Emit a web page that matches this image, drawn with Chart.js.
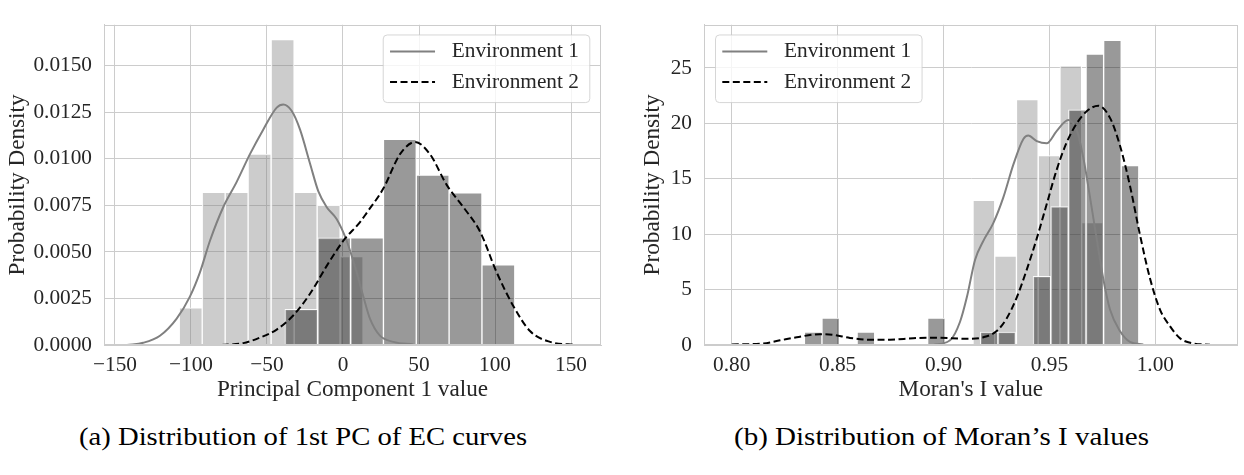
<!DOCTYPE html>
<html>
<head>
<meta charset="utf-8">
<title>Distributions</title>
<script src="https://cdn.jsdelivr.net/npm/chart.js@4.4.1/dist/chart.umd.min.js"></script>
<style>
  html, body { margin: 0; padding: 0; background: #fff; }
  body { width: 1244px; height: 475px; position: relative; overflow: hidden; }
  canvas { position: absolute; top: 0; }
  #chartA { left: 0; }
  #chartB { left: 620px; }
  .caption {
    position: absolute; top: 422px; line-height: 30px;
    font-family: "Liberation Serif", "Times New Roman", serif; font-size: 26px;
    color: #000; white-space: nowrap; transform-origin: left top;
  }
</style>
</head>
<body>
<canvas id="chartA" width="620" height="404"></canvas>
<canvas id="chartB" width="624" height="404"></canvas>
<div class="caption" id="capA" data-w="448">(a) Distribution of 1st PC of EC curves</div>
<div class="caption" id="capB" data-w="415">(b) Distribution of Moran’s I values</div>
<script>
// ---- (a) 1st principal component ----
const pcTicksX = [-150, -100, -50, 0, 50, 100, 150];
const pcTicksY = [0, 0.0025, 0.005, 0.0075, 0.01, 0.0125, 0.015];
const pcEnv1Edges = [-107.7, -92.6, -77.5, -62.4, -47.3, -32.1, -17.0, -1.9, 13.2];
const pcEnv1Heights = [0.0020, 0.0082, 0.0082, 0.01025, 0.0164, 0.0082, 0.0075, 0.00475];
const pcEnv2Edges = [-38.2, -16.6, 5.0, 26.6, 48.2, 69.8, 91.4, 113.0];
const pcEnv2Heights = [0.00192, 0.00575, 0.00575, 0.01105, 0.00913, 0.00817, 0.0043];
const pcKde1X = [-142, -131.4, -120.4, -109.4, -100.7, -94.1, -87.5, -78.8, -70, -61.2, -52.4, -43.6, -39.3, -33.8, -28.3, -21.7, -16.2, -10.7, -4.1, 2.4, 9, 13.4, 17.8, 24.3, 33.1, 46.3];
const pcKde1Y = [0, 0.00012, 0.0005, 0.00142, 0.0026, 0.0039, 0.0056, 0.0074, 0.00875, 0.01025, 0.01158, 0.01275, 0.01292, 0.01258, 0.01158, 0.00975, 0.00825, 0.0074, 0.00675, 0.0056, 0.0039, 0.0026, 0.0014, 0.0005, 0.00017, 0.00003];
const pcKde2X = [-79.8, -65.6, -54.6, -43.6, -32.6, -21.7, -10.7, 0.2, 11.2, 15.6, 26.5, 37.5, 47.4, 57.2, 68.2, 79.2, 90.1, 101.1, 112, 123, 136.2, 153.7];
const pcKde2Y = [0, 0.0001, 0.0004, 0.00083, 0.0016, 0.00275, 0.00425, 0.0056, 0.0066, 0.0071, 0.0084, 0.01025, 0.0109, 0.01025, 0.0086, 0.0074, 0.0061, 0.0039, 0.0021, 0.00075, 0.00017, 0];

// ---- (b) Moran's I ----
const miTicksX = [0.80, 0.85, 0.90, 0.95, 1.00];
const miTicksY = [0, 5, 10, 15, 20, 25];
const miEnv1Edges = [0.9139, 0.9242, 0.9344, 0.9447, 0.9550, 0.9652, 0.9755];
const miEnv1Heights = [13.05, 8.02, 22.15, 17.1, 25.2, 11.04];
const miEnv2Edges = [0.8343, 0.8426, 0.8509, 0.8592, 0.8675, 0.8759, 0.8842, 0.8925, 0.9008, 0.9091, 0.9174, 0.9257, 0.9340, 0.9423, 0.9506, 0.9590, 0.9673, 0.9756, 0.9839, 0.9922];
const miEnv2Heights = [1.17, 2.43, 0, 1.17, 0, 0, 0, 2.43, 0, 0, 1.17, 1.17, 0, 6.2, 12.49, 21.23, 26.26, 27.5, 16.2];
const miKde1X = [0.8952, 0.9031, 0.9078, 0.911, 0.9149, 0.9188, 0.9235, 0.9282, 0.933, 0.9377, 0.94, 0.944, 0.9487, 0.9534, 0.9589, 0.9629, 0.966, 0.9692, 0.9723, 0.9754, 0.9786, 0.9833, 0.988, 0.9943];
const miKde1Y = [0, 0.42, 2.1, 4.3, 7.7, 9.4, 11.0, 13.3, 16.3, 18.6, 18.9, 18.4, 18.2, 19.3, 20.3, 19.4, 16.9, 13.3, 9.6, 6.0, 3.2, 1.26, 0.28, 0.04];
const miKde2X = [0.80, 0.8149, 0.8228, 0.8307, 0.8417, 0.848, 0.8558, 0.8653, 0.8747, 0.8857, 0.8952, 0.911, 0.9188, 0.9251, 0.9298, 0.9346, 0.9393, 0.944, 0.9487, 0.9534, 0.9582, 0.9629, 0.9676, 0.9731, 0.9786, 0.9833, 0.988, 0.9928, 0.9975, 1.0022, 1.0069, 1.0117, 1.018, 1.0258];
const miKde2Y = [0.05, 0.14, 0.42, 0.7, 0.98, 0.92, 0.64, 0.48, 0.48, 0.61, 0.66, 0.56, 0.7, 1.26, 2.4, 4.3, 6.8, 9.6, 12.7, 15.8, 18.3, 20.0, 21.1, 21.6, 20.5, 18.0, 14.4, 9.9, 6.0, 3.2, 1.7, 0.6, 0.14, 0.03];

const seriesNames = ['Environment 1', 'Environment 2'];

const TEXT = '#262626';
const GRID = '#cccccc';
const TICK_PX = 21.3;
const LABEL_PX = 23.2;
const SERIF = '"Liberation Serif", "Times New Roman", serif';

Chart.defaults.font.family = SERIF;
Chart.defaults.color = TEXT;

function binBars(edges, heights) {
  return heights.map((h, i) => ({ x: (edges[i] + edges[i + 1]) / 2, y: h }));
}
function curve(xs, ys) {
  return xs.map((x, i) => ({ x: x, y: ys[i] }));
}
function minusSign(v) {
  return v < 0 ? '\u2212' + Math.abs(v) : String(v);
}

// outer frame (seaborn whitegrid spines)
const framePlugin = {
  id: 'frame',
  afterDatasetsDraw(chart) {
    const { ctx, chartArea: a } = chart;
    ctx.save();
    ctx.strokeStyle = GRID;
    ctx.lineWidth = 1;
    ctx.strokeRect(Math.round(a.left) + 0.5, Math.round(a.top) + 0.5,
      Math.round(a.right - a.left) - 1, Math.round(a.bottom - a.top) - 1);
    ctx.restore();
  }
};

// matplotlib-like legend box inside the axes
const boxLegend = {
  id: 'boxLegend',
  afterDraw(chart, args, opts) {
    const { ctx, chartArea: a } = chart;
    const lines = chart.data.datasets.filter(d => d.type === 'line');
    ctx.save();
    ctx.font = TICK_PX + 'px ' + SERIF;
    const textW = Math.max(...lines.map(d => ctx.measureText(d.label).width));
    const w = 69 + textW + 10.4;
    const h = 67.6;
    const x = opts.side === 'left' ? a.left + 11 : a.right - 11.7 - w;
    const y = a.top + 9.7;
    ctx.beginPath();
    ctx.roundRect(x + 0.5, y + 0.5, w, h, 4);
    ctx.fillStyle = 'rgba(255,255,255,0.8)';
    ctx.fill();
    ctx.strokeStyle = 'rgba(204,204,204,0.8)';
    ctx.lineWidth = 1;
    ctx.stroke();
    lines.forEach((d, i) => {
      const cy = y + 17 + i * 30.6;
      ctx.beginPath();
      ctx.setLineDash(d.borderDash || []);
      ctx.strokeStyle = d.borderColor;
      ctx.lineWidth = d.borderWidth;
      ctx.moveTo(x + 7.3, cy);
      ctx.lineTo(x + 52.3, cy);
      ctx.stroke();
      ctx.setLineDash([]);
      ctx.fillStyle = TEXT;
      ctx.textBaseline = 'middle';
      ctx.textAlign = 'left';
      ctx.fillText(d.label, x + 69, cy);
    });
    ctx.restore();
  }
};

function makeChart(id, c) {
  const setTicks = vals => scale => { scale.ticks = vals.map(v => ({ value: v })); };
  return new Chart(document.getElementById(id), {
    type: 'bar',
    data: {
      datasets: [
        { type: 'line', label: seriesNames[0], data: curve(c.k1x, c.k1y), borderColor: '#808080',
          borderWidth: 2, pointRadius: 0, cubicInterpolationMode: 'monotone', order: 1, xAxisID: 'x' },
        { type: 'line', label: seriesNames[1], data: curve(c.k2x, c.k2y), borderColor: '#000000',
          borderDash: [7, 3.5], borderWidth: 2, pointRadius: 0, cubicInterpolationMode: 'monotone', order: 0, xAxisID: 'x' },
        { type: 'bar', label: seriesNames[0] + ' hist', data: binBars(c.e1, c.h1),
          backgroundColor: 'rgba(128,128,128,0.4)', borderColor: 'rgba(255,255,255,0.9)', borderWidth: 1,
          barPercentage: 1, categoryPercentage: 1, grouped: false, order: 3, xAxisID: 'x' },
        { type: 'bar', label: seriesNames[1] + ' hist', data: binBars(c.e2, c.h2),
          backgroundColor: 'rgba(0,0,0,0.4)', borderColor: 'rgba(255,255,255,0.9)', borderWidth: 1,
          barPercentage: 1, categoryPercentage: 1, grouped: false, order: 2, xAxisID: 'x2' }
      ]
    },
    options: {
      responsive: false,
      animation: false,
      events: [],
      layout: { padding: { top: 1, right: c.padRight, left: 0, bottom: 0 } },
      plugins: { legend: { display: false }, tooltip: { enabled: false }, boxLegend: { side: c.legendSide } },
      scales: {
        x: {
          type: 'linear', min: c.xMin, max: c.xMax, offset: false,
          afterBuildTicks: setTicks(c.ticksX),
          afterFit: s => { s.height = 59; },
          grid: { color: GRID, lineWidth: 1, drawTicks: false, offset: false },
          border: { color: GRID, width: 1 },
          ticks: { padding: 8, font: { size: TICK_PX }, callback: c.fmtX, maxRotation: 0 },
          title: { display: true, text: c.xTitle, font: { size: LABEL_PX }, padding: { bottom: 0, top: 0 } }
        },
        x2: {
          type: 'linear', display: false, min: c.xMin, max: c.xMax, offset: false,
          grid: { offset: false },
          afterBuildTicks: setTicks(c.ticksX)
        },
        y: {
          type: 'linear', min: 0, max: c.yMax,
          afterBuildTicks: setTicks(c.ticksY),
          afterFit: s => { s.width = c.yWidth; },
          grid: { color: GRID, lineWidth: 1, drawTicks: false },
          border: { color: GRID, width: 1 },
          ticks: { padding: 12, font: { size: TICK_PX }, callback: c.fmtY },
          title: { display: true, text: 'Probability Density', font: { size: LABEL_PX }, padding: { top: c.yTitlePad, bottom: 0 } }
        }
      }
    },
    plugins: [framePlugin, boxLegend]
  });
}

makeChart('chartA', {
  k1x: pcKde1X, k1y: pcKde1Y, k2x: pcKde2X, k2y: pcKde2Y,
  e1: pcEnv1Edges, h1: pcEnv1Heights, e2: pcEnv2Edges, h2: pcEnv2Heights,
  ticksX: pcTicksX, ticksY: pcTicksY,
  xMin: -157.2, xMax: 169.7, yMax: 0.0172,
  fmtX: v => minusSign(v), fmtY: v => v.toFixed(4),
  xTitle: 'Principal Component 1 value',
  yWidth: 104, yTitlePad: 4, padRight: 19, legendSide: 'right'
});

makeChart('chartB', {
  k1x: miKde1X, k1y: miKde1Y, k2x: miKde2X, k2y: miKde2Y,
  e1: miEnv1Edges, h1: miEnv1Heights, e2: miEnv2Edges, h2: miEnv2Heights,
  ticksX: miTicksX, ticksY: miTicksY,
  xMin: 0.7869, xMax: 1.0389, yMax: 28.9,
  fmtX: v => v.toFixed(2), fmtY: v => String(v),
  xTitle: "Moran's I value",
  yWidth: 84, yTitlePad: 19, padRight: 6.3, legendSide: 'left'
});

// captions: stretch to the width they take in the reference
const capLeft = { capA: 79, capB: 734 };
document.querySelectorAll('.caption').forEach(el => {
  el.style.left = capLeft[el.id] + 'px';
  const k = Number(el.dataset.w) / el.getBoundingClientRect().width;
  el.style.transform = 'scaleX(' + k.toFixed(3) + ')';
});
</script>
</body>
</html>
